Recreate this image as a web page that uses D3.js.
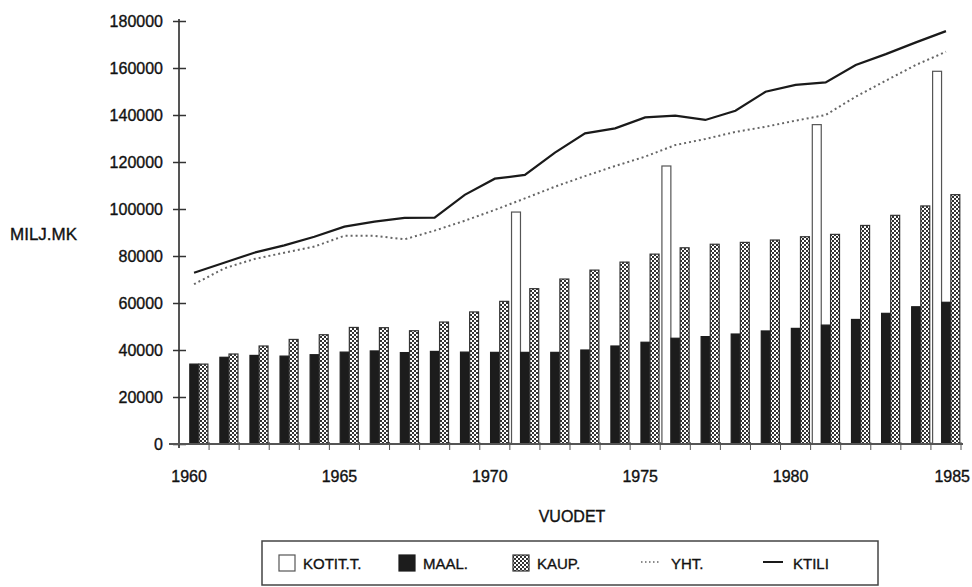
<!DOCTYPE html>
<html>
<head>
<meta charset="utf-8">
<script src="https://cdn.jsdelivr.net/npm/d3@7"></script>
<style>
    body { margin: 0; background: #fff; }
    svg text { font-family: "Liberation Sans", Arial, sans-serif; fill: #111; stroke: #111; stroke-width: 0.35px; }
</style>
</head>
<body>
<div id="chart"></div>
<script>
var years = [1960, 1961, 1962, 1963, 1964, 1965, 1966, 1967, 1968, 1969, 1970, 1971, 1972,
             1973, 1974, 1975, 1976, 1977, 1978, 1979, 1980, 1981, 1982, 1983, 1984, 1985];
var yearLabels = [1960, 1965, 1970, 1975, 1980, 1985];
var yTicks = [0, 20000, 40000, 60000, 80000, 100000, 120000, 140000, 160000, 180000];

// kotitaloustiedustelu vain tutkimusvuosina
var kotit = [null, null, null, null, null, null, null, null, null, null, null, 98700, null,
             null, null, null, 118300, null, null, null, null, 135900, null, null, null, 158600];
var maal = [34000, 36900, 37700, 37400, 38000, 39100, 39600, 38900, 39400, 39100, 39000, 39000, 39000,
            40000, 41700, 43300, 45000, 45700, 46800, 48100, 49200, 50600, 53000, 55600, 58400, 60300];
var kaup = [34000, 38300, 41700, 44500, 46500, 49600, 49500, 48200, 51900, 56200, 60700, 66100, 70200,
            74000, 77400, 80800, 83500, 85000, 85800, 86800, 88200, 89200, 93000, 97300, 101300, 106100];
var yht = [68000, 74700, 78700, 81400, 84000, 88600, 88600, 87100, 90800, 95000, 99600, 104500, 109500,
           114000, 118300, 122300, 127200, 129800, 132800, 135000, 137600, 140000, 147800, 154600, 161300, 166900];
var ktili = [72900, 77100, 81400, 84500, 88200, 92500, 94600, 96200, 96300, 106000, 112900, 114500, 124000,
             132200, 134300, 139000, 139700, 137900, 141800, 149900, 152800, 153900, 161300, 165900, 170900, 175700];

var barSeries = [
    {id: "KOTIT.T.", values: kotit},
    {id: "MAAL.", values: maal},
    {id: "KAUP.", values: kaup}
];

var svg = d3.select("#chart")
        .append("svg")
        .attr("width", 972)
        .attr("height", 587),
    plot = {left: 179, right: 961, top: 21, bottom: 444},
    x = d3.scaleBand().domain(years).range([plot.left, plot.right]).padding(0),
    xInner = d3.scaleBand().domain(barSeries.map(function(s) { return s.id; }))
        .range([1.5, x.bandwidth() - 1]).padding(0.02),
    y = d3.scaleLinear().domain([0, 180000]).range([plot.bottom, plot.top]),
    axisColor = "#555";

var defs = svg.append("defs");
var pat = defs.append("pattern")
    .attr("id", "checker")
    .attr("patternUnits", "userSpaceOnUse")
    .attr("width", 4)
    .attr("height", 4);
pat.append("rect").attr("width", 4).attr("height", 4).attr("fill", "#fff");
pat.append("rect").attr("width", 2).attr("height", 2).attr("fill", "#333");
pat.append("rect").attr("x", 2).attr("y", 2).attr("width", 2).attr("height", 2).attr("fill", "#333");

/* Pylväät */
var fills = {"KOTIT.T.": "#fff", "MAAL.": "#1c1c1c", "KAUP.": "url(#checker)"};
var strokes = {"KOTIT.T.": "#555", "MAAL.": "#1c1c1c", "KAUP.": "#333"};

barSeries.forEach(function(s) {
    svg.append("g")
        .selectAll("rect")
        .data(years.map(function(yr, i) { return {year: yr, v: s.values[i]}; })
            .filter(function(d) { return d.v != null; }))
        .enter()
        .append("rect")
        .attr("x", function(d) { return x(d.year) + xInner(s.id); })
        .attr("width", xInner.bandwidth())
        .attr("y", function(d) { return y(d.v); })
        .attr("height", function(d) { return y(0) - y(d.v); })
        .attr("fill", fills[s.id])
        .attr("stroke", strokes[s.id])
        .attr("stroke-width", 1.2);
});

/* Viivat */
var line = d3.line()
    .x(function(d, i) { return x(years[i]) + x.bandwidth() / 2; })
    .y(function(d) { return y(d); });

svg.append("path")
    .attr("d", line(yht))
    .attr("fill", "none")
    .attr("stroke", "#666")
    .attr("stroke-width", 2)
    .attr("stroke-dasharray", "2,3");

svg.append("path")
    .attr("d", line(ktili))
    .attr("fill", "none")
    .attr("stroke", "#1a1a1a")
    .attr("stroke-width", 2.2);

/* Akselit */
var yAxis = svg.append("g")
    .attr("transform", "translate(" + plot.left + ",0)")
    .call(d3.axisLeft(y).tickValues(yTicks).tickSize(6).tickPadding(10).tickFormat(d3.format("d")));
yAxis.select(".domain").attr("stroke", axisColor).attr("stroke-width", 2)
    .attr("d", "M0," + (plot.top - 2) + "V" + (plot.bottom + 4));
yAxis.selectAll(".tick line").attr("stroke", "#333").attr("stroke-width", 1.5).attr("x1", -6).attr("x2", 7);
yAxis.selectAll(".tick text").attr("font-size", 16).style("fill", "#111");

var xAxis = svg.append("g")
    .attr("transform", "translate(0," + plot.bottom + ")");
xAxis.append("path")
    .attr("d", "M" + (plot.left - 10) + ",0H" + (plot.right + 2))
    .attr("stroke", axisColor)
    .attr("stroke-width", 2);
xAxis.selectAll(".xt")
    .data(years)
    .enter()
    .append("line")
    .attr("x1", function(d) { return x(d) + x.bandwidth(); })
    .attr("x2", function(d) { return x(d) + x.bandwidth(); })
    .attr("y1", -2)
    .attr("y2", 6)
    .attr("stroke", "#555")
    .attr("stroke-width", 1);
xAxis.selectAll(".xl")
    .data(yearLabels)
    .enter()
    .append("text")
    .attr("x", function(d, i) {
        // viimeinen vuosi on reunassa
        return i == yearLabels.length - 1 ? x(d) + x.bandwidth() + 9 : x(d) + x.bandwidth() / 2 - 5;
    })
    .attr("y", 38)
    .attr("text-anchor", function(d, i) { return i == yearLabels.length - 1 ? "end" : "middle"; })
    .attr("font-size", 16)
    .text(function(d) { return d; });

svg.append("text")
    .attr("x", 10)
    .attr("y", 240)
    .attr("font-size", 17)
    .text("MILJ.MK");

svg.append("text")
    .attr("x", 572)
    .attr("y", 522)
    .attr("text-anchor", "middle")
    .attr("font-size", 16)
    .text("VUODET");

/* Selite */
var lg = svg.append("g");
lg.append("rect")
    .attr("x", 262).attr("y", 541).attr("width", 616).attr("height", 44)
    .attr("fill", "none").attr("stroke", "#444").attr("stroke-width", 1.5);

var legendItems = [
    {id: "KOTIT.T.", x: 279, type: "box"},
    {id: "MAAL.", x: 399, type: "box"},
    {id: "KAUP.", x: 513, type: "box"},
    {id: "YHT.", x: 641, type: "dot"},
    {id: "KTILI", x: 763, type: "solid"}
];
var ly = 563;
legendItems.forEach(function(it) {
    if (it.type == "box") {
        lg.append("rect")
            .attr("x", it.x).attr("y", ly - 8).attr("width", 16).attr("height", 16)
            .attr("fill", fills[it.id]).attr("stroke", strokes[it.id]).attr("stroke-width", 1.2);
    } else {
        lg.append("line")
            .attr("x1", it.x).attr("x2", it.x + 20).attr("y1", ly - 1).attr("y2", ly - 1)
            .attr("stroke", it.type == "dot" ? "#666" : "#1a1a1a")
            .attr("stroke-width", it.type == "dot" ? 1.5 : 2)
            .attr("stroke-dasharray", it.type == "dot" ? "1.5,2.5" : null);
    }
    lg.append("text")
        .attr("x", it.x + (it.type == "box" ? 24 : 30))
        .attr("y", ly + 6)
        .attr("font-size", 15)
        .text(it.id);
});
</script>
</body>
</html>
